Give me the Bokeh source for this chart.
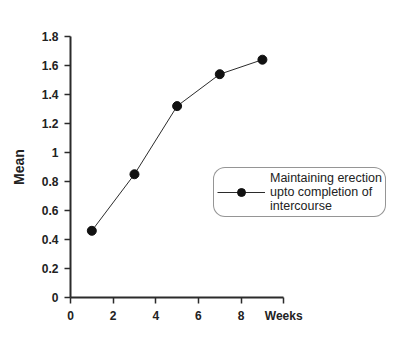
from bokeh.plotting import figure
from bokeh.models import Legend, LegendItem, FixedTicker, Range1d
from bokeh.embed import file_html
from bokeh.resources import INLINE

weeks = [1, 3, 5, 7, 9]
mean_vals = [0.46, 0.85, 1.32, 1.54, 1.64]
x_ticks = [0, 2, 4, 6, 8, 10]
y_ticks = [0, 0.2, 0.4, 0.6, 0.8, 1.0, 1.2, 1.4, 1.6, 1.8]
series_label = "Maintaining erection\nupto completion of\nintercourse"

FONT = "Liberation Sans"
DARK = "#2b2b2b"

p = figure(width=400, height=341, output_backend="svg", toolbar_location=None,
           x_range=Range1d(0, 15.1), y_range=Range1d(0, 1.8),
           min_border_left=70, min_border_right=8, min_border_top=36, min_border_bottom=44)
p.outline_line_color = None
p.xgrid.visible = False
p.ygrid.visible = False
p.background_fill_color = "white"
p.border_fill_color = "white"

ln = p.line(weeks, mean_vals, line_color=DARK, line_width=1)
sc = p.scatter(weeks, mean_vals, size=9, fill_color="#111111", line_color="#111111")

for ax in (p.xaxis[0], p.yaxis[0]):
    ax.axis_line_color = DARK
    ax.axis_line_width = 2
    ax.major_tick_line_color = DARK
    ax.major_tick_line_width = 1.5
    ax.major_tick_out = 6
    ax.major_tick_in = 0
    ax.minor_tick_line_color = None
    ax.major_label_text_font = FONT
    ax.major_label_text_font_style = "bold"
    ax.major_label_text_font_size = "12px"
    ax.major_label_text_color = "#222222"

p.xaxis.bounds = (0, 10)
p.yaxis.bounds = (0, 1.8)
p.xaxis.ticker = FixedTicker(ticks=x_ticks)
p.yaxis.ticker = FixedTicker(ticks=y_ticks)
p.xaxis.major_label_overrides = {10: "Weeks"}
p.yaxis.major_label_overrides = {0: "0", 1.0: "1"}
p.xaxis.major_label_standoff = 5
p.yaxis.major_label_standoff = 6

p.yaxis.axis_label = "Mean"
p.yaxis.axis_label_text_font = FONT
p.yaxis.axis_label_text_font_style = "bold"
p.yaxis.axis_label_text_font_size = "14px"
p.yaxis.axis_label_text_color = "#222222"
p.yaxis.axis_label_standoff = 12

legend = Legend(items=[LegendItem(label=series_label, renderers=[ln, sc])],
                location=(143, 80))
legend.border_line_color = DARK
legend.border_line_width = 1
legend.background_fill_alpha = 1
legend.label_text_font = FONT
legend.label_text_font_size = "12.5px"
legend.label_text_color = "#222222"
legend.label_text_line_height = 1.0
legend.glyph_width = 48
legend.label_standoff = 5
legend.padding = 3
legend.margin = 0
if "border_radius" in Legend.properties():
    legend.border_radius = 12
p.add_layout(legend, "center")

open("out.html", "w").write(file_html(p, INLINE))
